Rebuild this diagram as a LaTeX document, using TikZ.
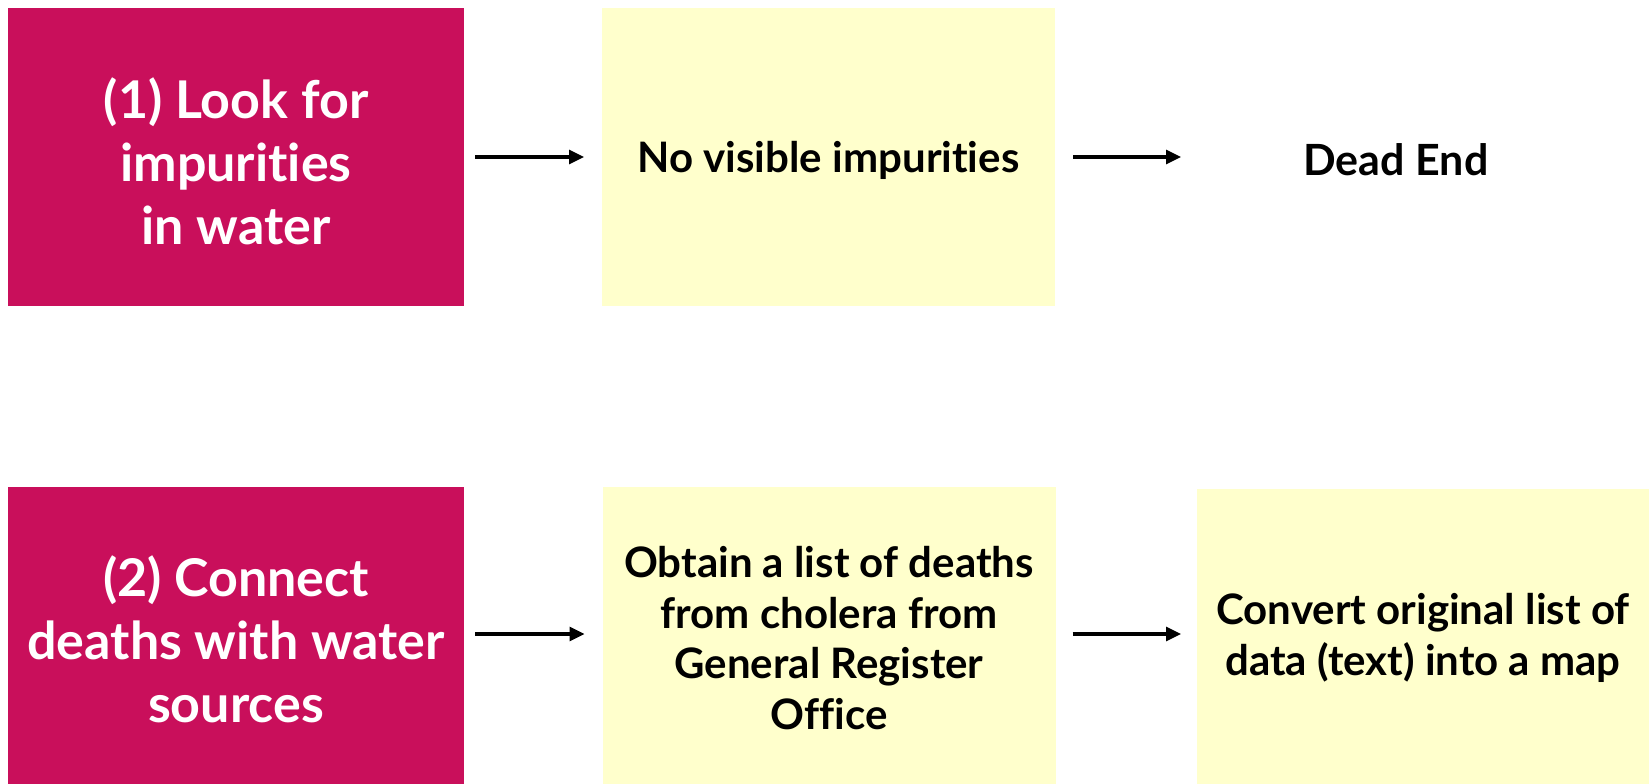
\documentclass[tikz,border=0pt]{standalone}
\usepackage{fontspec}
\setmainfont{Lato}[RawFeature={-liga}]
\usetikzlibrary{arrows.meta}
\definecolor{magentabox}{RGB}{201,15,91}
\definecolor{yellowbox}{RGB}{255,255,204}
\tikzset{
  base/.style={inner sep=0pt, outer sep=0pt, align=center, font=\bfseries},
  mbox/.style={base, fill=magentabox, text=white, minimum width=456pt, minimum height=297pt},
  mtext/.style={base, text=white, font=\bfseries\fontsize{52}{63}\selectfont},
  ybox/.style={base, fill=yellowbox, text=black, minimum width=453pt, minimum height=297pt},
  plain/.style={base, text=black, font=\bfseries\fontsize{42}{50.5}\selectfont},
  arr/.style={line width=3.2pt, -{Triangle[length=15pt,width=14pt]}},
}
\begin{document}
\begin{tikzpicture}[x=1pt,y=-1pt]
\useasboundingbox (0,0) rectangle (1649,784);
\node[mbox] (b1) at (236,157) {};
\node[mtext] (t1) at (236,161) {(1) Look for\\impurities\\in water};
\node[ybox] (b2) at (828.5,157) {};
\node[plain] (t2) at (828.5,160) {No visible impurities};
\node[plain, minimum width=398pt, minimum height=60pt, font=\bfseries\fontsize{43}{50.5}\selectfont] (dead) at (1396,160) {Dead End};
\node[mbox] (b3) at (236,635.5) {};
\node[mtext] (t3) at (236,639) {(2) Connect\\deaths with water\\sources};
\node[ybox] (b4) at (829,635.5) {};
\node[plain] (t4) at (829,638) {Obtain a list of deaths\\from cholera from\\General Register\\Office};
\node[ybox, minimum width=452pt, minimum height=295pt] (b5) at (1423,636.5) {};
\node[plain] (t5) at (1423,638) {Convert original list of\\data (text) into a map};
\draw[arr, shorten <=11pt, shorten >=18pt] (b1.east) -- (b2.west);
\draw[arr, shorten <=18pt, shorten >=16pt] (b2.east) -- (b2.east -| dead.west);
\draw[arr, shorten <=11pt, shorten >=18pt] ([yshift=1.5pt]b3.east) -- ([yshift=1.5pt]b4.west);
\draw[arr, shorten <=17pt, shorten >=16pt] ([yshift=1.5pt]b4.east) -- ([yshift=1.5pt]b4.east -| b5.west);
\end{tikzpicture}
\end{document}
